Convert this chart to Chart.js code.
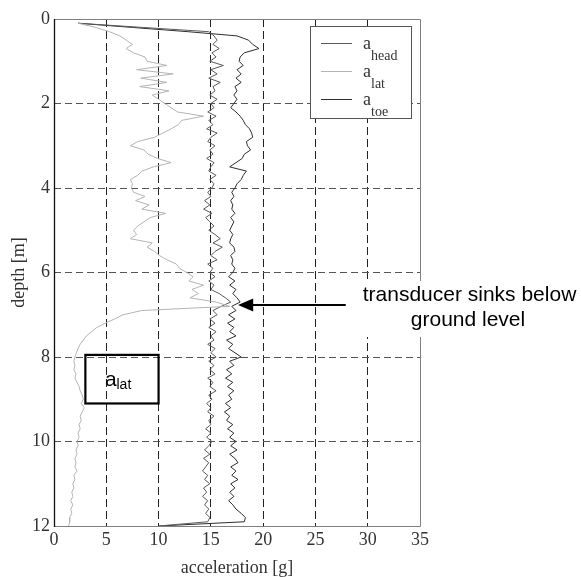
<!DOCTYPE html>
<html>
<head>
<meta charset="utf-8">
<script src="https://cdn.jsdelivr.net/npm/chart.js@4.4.1/dist/chart.umd.min.js"></script>
<style>
  body { margin: 0; background: #fff; }
  canvas { display: block; }
</style>
</head>
<body>
<canvas id="chart" width="581" height="577"></canvas>
<script>
// depth of each sample [m]
const depth = [
  0.1, 0.2, 0.3, 0.4, 0.5, 0.6, 0.7, 0.8, 0.9, 1.0,
  1.1, 1.2, 1.3, 1.4, 1.5, 1.6, 1.7, 1.8, 1.9, 2.0,
  2.1, 2.2, 2.3, 2.4, 2.5, 2.6, 2.7, 2.8, 2.9, 3.0,
  3.1, 3.2, 3.3, 3.4, 3.5, 3.6, 3.7, 3.8, 3.9, 4.0,
  4.1, 4.2, 4.3, 4.4, 4.5, 4.6, 4.7, 4.8, 4.9, 5.0,
  5.1, 5.2, 5.3, 5.4, 5.5, 5.6, 5.7, 5.8, 5.9, 6.0,
  6.1, 6.2, 6.3, 6.4, 6.5, 6.6, 6.7, 6.8, 6.9, 7.0,
  7.1, 7.2, 7.3, 7.4, 7.5, 7.6, 7.7, 7.8, 7.9, 8.0,
  8.1, 8.2, 8.3, 8.4, 8.5, 8.6, 8.7, 8.8, 8.9, 9.0,
  9.1, 9.2, 9.3, 9.4, 9.5, 9.6, 9.7, 9.8, 9.9, 10.0,
  10.1, 10.2, 10.3, 10.4, 10.5, 10.6, 10.7, 10.8, 10.9, 11.0,
  11.1, 11.2, 11.3, 11.4, 11.5, 11.6, 11.7, 11.8, 11.9, 12.0
]

// accelerations [g]
const aHead = [
  2.3, 8.5, 14.8, 15.3, 15.6, 15.2, 15.8, 15.1, 15.5, 14.9,
  16.2, 15.0, 15.6, 14.8, 15.9, 15.2, 15.4, 14.9, 15.6, 15.0,
  15.3, 14.7, 15.5, 14.8, 15.2, 14.6, 15.6, 15.0, 14.7, 15.4,
  14.9, 15.2, 14.6, 15.3, 15.0, 14.8, 15.5, 14.9, 15.3, 15.1,
  14.7, 15.0, 14.4, 14.9, 14.3, 15.1, 14.5, 14.9, 15.3, 14.8,
  15.4, 15.9, 15.2, 16.1, 15.4, 15.0, 15.6, 14.7, 15.2, 14.9,
  15.4, 14.8, 15.3, 15.0, 15.8, 16.4, 16.9, 16.0, 15.2, 15.6,
  14.9, 15.4, 14.8, 15.5, 15.0, 15.3, 14.7, 15.4, 15.0, 15.5,
  14.8, 15.3, 14.9, 15.4, 14.7, 15.2, 14.9, 15.5, 14.8, 15.1,
  14.6, 15.0, 14.7, 15.3, 14.8, 15.0, 14.5, 15.0, 14.6, 15.1,
  14.8, 14.4, 14.9, 14.3, 14.8, 14.5, 14.2, 14.7, 14.4, 14.9,
  14.3, 14.6, 14.2, 14.7, 14.4, 14.8, 14.5, 14.9, 14.7, 10.0
]

const aLat = [
  2.3, 4.0, 5.3, 6.3, 6.9, 7.5, 6.9, 7.6, 8.7, 8.9,
  10.8, 7.9, 11.4, 8.3, 10.8, 8.2, 11.0, 9.4, 10.0, 10.6,
  11.2, 11.8, 14.3, 12.2, 11.9, 11.2, 10.4, 9.6, 8.0, 7.3,
  8.6, 9.0, 9.9, 11.2, 9.5, 8.4, 8.0, 7.3, 7.5, 7.4,
  7.6, 8.7, 7.8, 9.1, 8.4, 10.7, 9.2, 8.6, 8.0, 7.6,
  7.9, 7.3, 9.4, 8.9, 9.6, 10.1, 10.8, 11.7, 12.0, 12.7,
  13.3, 12.9, 14.3, 13.2, 13.8, 13.0, 15.5, 16.8, 8.4, 6.6,
  5.8, 4.9, 4.1, 3.6, 3.1, 2.8, 2.5, 2.3, 2.15, 2.0,
  1.9, 2.0, 1.9, 2.1, 2.0, 2.2, 2.4, 2.5, 2.7, 2.8,
  2.6, 2.9, 2.7, 2.5, 2.6, 2.4, 2.5, 2.3, 2.4, 2.2,
  2.3, 2.1, 2.2, 2.0, 2.1, 2.0, 2.2, 1.9, 2.0, 1.8,
  1.9, 1.7, 1.8, 1.6, 1.8, 1.6, 1.7, 1.5, 1.5, 1.4
]

const aToe = [
  2.3, 7.5, 12.8, 17.5, 18.6, 19.0, 19.6, 18.2, 17.8, 17.7,
  18.1, 17.5, 17.9, 17.4, 17.9, 17.3, 17.5, 17.2, 17.5, 17.2,
  16.9, 17.4, 17.8, 18.1, 18.3, 18.7, 18.9, 19.0, 18.4, 18.5,
  18.8, 18.2, 18.0, 17.4, 16.8, 18.4, 18.1, 17.9, 17.5, 17.3,
  17.0, 17.2, 16.9, 17.1, 17.0, 17.3, 16.9, 17.2, 17.0, 16.8,
  17.1, 16.9, 16.8, 17.2, 17.3, 16.9, 17.1, 17.0, 17.3, 17.1,
  16.7, 17.3, 16.8, 17.4, 17.1, 17.5, 17.8, 17.0, 17.4, 16.7,
  17.3, 16.6, 17.2, 16.8, 17.4, 16.5, 17.1, 16.7, 17.3, 17.9,
  16.8, 17.2, 16.5, 17.0, 16.4, 17.1, 16.6, 17.2, 16.7, 17.0,
  16.4, 16.9, 16.3, 16.8, 16.5, 17.1, 16.6, 17.2, 16.8, 17.4,
  16.9, 17.5, 16.8, 17.3, 17.6, 16.9, 17.4, 17.0, 17.6, 16.9,
  17.3, 16.8, 17.2, 16.7, 17.1, 17.4, 17.9, 18.3, 18.2, 10.0
]

const seriesNames = ['head', 'lat', 'toe']
const seriesColors = ['#5a5a5a', '#b4b4b4', '#2e2e2e']
const xTicks = [0, 5, 10, 15, 20, 25, 30, 35]
const yTicks = [0, 2, 4, 6, 8, 10, 12]

const serif = "'Liberation Serif', 'DejaVu Serif', serif"
const sans = "'Liberation Sans', Arial, sans-serif"

function toPoints(values) {
    return depth.map((d, i) => ({x: values[i], y: d}))
}

// frame round the plot area, drawn under the curves
const framePlugin = {
    id: 'frame',
    beforeDatasetsDraw(chart) {
        const {ctx, chartArea: a} = chart
        ctx.save()
        ctx.strokeStyle = '#808080'
        ctx.lineWidth = 1
        ctx.beginPath()
        ctx.moveTo(a.left, a.top + 0.5)
        ctx.lineTo(a.right + 0.5, a.top + 0.5)
        ctx.lineTo(a.right + 0.5, a.bottom + 0.5)
        ctx.lineTo(a.left, a.bottom + 0.5)
        ctx.stroke()
        ctx.strokeStyle = '#111'
        ctx.lineWidth = 1.3
        ctx.beginPath()
        ctx.moveTo(a.left + 0.5, a.top)
        ctx.lineTo(a.left + 0.5, a.bottom + 1)
        ctx.stroke()
        ctx.restore()
    }
}

// legend with subscripts, a_lat box and the arrow note
const notesPlugin = {
    id: 'notes',
    afterDraw(chart) {
        const ctx = chart.ctx
        const xs = chart.scales.x
        const ys = chart.scales.y
        ctx.save()

        // legend
        const lx = 310.5, ly = 26.5, lw = 101, lh = 92
        ctx.fillStyle = '#fff'
        ctx.fillRect(lx, ly, lw, lh)
        ctx.strokeStyle = '#555'
        ctx.lineWidth = 1
        ctx.strokeRect(lx, ly, lw, lh)
        const rowY = [43.5, 71.5, 99.5]
        for (let i = 0; i < seriesNames.length; i++) {
            ctx.strokeStyle = seriesColors[i]
            ctx.lineWidth = 1
            ctx.beginPath()
            ctx.moveTo(321, rowY[i])
            ctx.lineTo(352, rowY[i])
            ctx.stroke()
            ctx.fillStyle = '#333'
            ctx.textAlign = 'left'
            ctx.textBaseline = 'alphabetic'
            ctx.font = '18px ' + serif
            ctx.fillText('a', 363, rowY[i] + 5)
            ctx.font = '14px ' + serif
            ctx.fillText(seriesNames[i], 371, rowY[i] + 16.5)
        }

        // box round a_lat
        const bx1 = xs.getPixelForValue(3), bx2 = xs.getPixelForValue(10)
        const by1 = ys.getPixelForValue(7.95), by2 = ys.getPixelForValue(9.1)
        ctx.strokeStyle = '#000'
        ctx.lineWidth = 2.2
        ctx.strokeRect(bx1, by1, bx2 - bx1, by2 - by1)
        ctx.fillStyle = '#000'
        ctx.font = '21px ' + sans
        ctx.fillText('a', 105, 386)
        ctx.font = '14px ' + sans
        ctx.fillText('lat', 116.5, 389)

        // white patch behind the note
        ctx.fillStyle = '#fff'
        ctx.fillRect(356, 281, 225, 56)

        // arrow
        const tipX = xs.getPixelForValue(17.6)
        const tipY = ys.getPixelForValue(6.77)
        const baseX = xs.getPixelForValue(19.05)
        const endX = xs.getPixelForValue(27.9)
        ctx.strokeStyle = '#000'
        ctx.fillStyle = '#000'
        ctx.lineWidth = 2
        ctx.beginPath()
        ctx.moveTo(baseX - 1, tipY)
        ctx.lineTo(endX, tipY)
        ctx.stroke()
        ctx.beginPath()
        ctx.moveTo(tipX, tipY)
        ctx.lineTo(baseX, tipY - 6.5)
        ctx.lineTo(baseX, tipY + 6.5)
        ctx.closePath()
        ctx.fill()

        ctx.font = '21px ' + sans
        ctx.textAlign = 'center'
        ctx.fillText('transducer sinks below', 469.5, 301)
        ctx.fillText('ground level', 468, 326)
        ctx.restore()
    }
}

const tickFont = {family: serif, size: 18}

const config = {
    type: 'scatter',
    data: {
        datasets: [
            {label: 'a_lat', data: toPoints(aLat), borderColor: seriesColors[1]},
            {label: 'a_head', data: toPoints(aHead), borderColor: seriesColors[0]},
            {label: 'a_toe', data: toPoints(aToe), borderColor: seriesColors[2]}
        ]
    },
    options: {
        responsive: false,
        animation: false,
        showLine: true,
        datasets: {
            scatter: {borderWidth: 1, pointRadius: 0, tension: 0, fill: false}
        },
        layout: {padding: {left: 0, top: 19, right: 161, bottom: 0}},
        plugins: {legend: {display: false}, tooltip: {enabled: false}},
        scales: {
            x: {
                type: 'linear',
                min: 0,
                max: 35,
                afterBuildTicks: scale => { scale.ticks = xTicks.map(v => ({value: v})) },
                afterFit: scale => { scale.height = 51 },
                ticks: {font: tickFont, color: '#333', padding: 3},
                grid: {
                    drawTicks: false,
                    lineWidth: 1,
                    color: c => (c.tick && (c.tick.value === 0 || c.tick.value === 35)) ? 'rgba(0,0,0,0)' : '#222'
                },
                border: {display: false, dash: [8, 4]},
                title: {
                    display: true,
                    text: 'acceleration [g]',
                    color: '#333',
                    font: {family: serif, size: 18, lineHeight: 1},
                    padding: {top: 0, bottom: 0}
                }
            },
            y: {
                type: 'linear',
                reverse: true,
                min: 0,
                max: 12,
                afterBuildTicks: scale => { scale.ticks = yTicks.map(v => ({value: v})) },
                afterFit: scale => { scale.width = 54 },
                ticks: {font: tickFont, color: '#333', padding: 4},
                grid: {
                    drawTicks: false,
                    lineWidth: 1,
                    color: c => (c.tick && (c.tick.value === 0 || c.tick.value === 12)) ? 'rgba(0,0,0,0)' : '#555'
                },
                border: {display: false, dash: [7, 4]},
                title: {
                    display: true,
                    text: 'depth [m]',
                    color: '#333',
                    font: {family: serif, size: 18, lineHeight: 1},
                    padding: {top: 10, bottom: 0}
                }
            }
        }
    },
    plugins: [framePlugin, notesPlugin]
}

new Chart(document.getElementById('chart'), config)
</script>
</body>
</html>
